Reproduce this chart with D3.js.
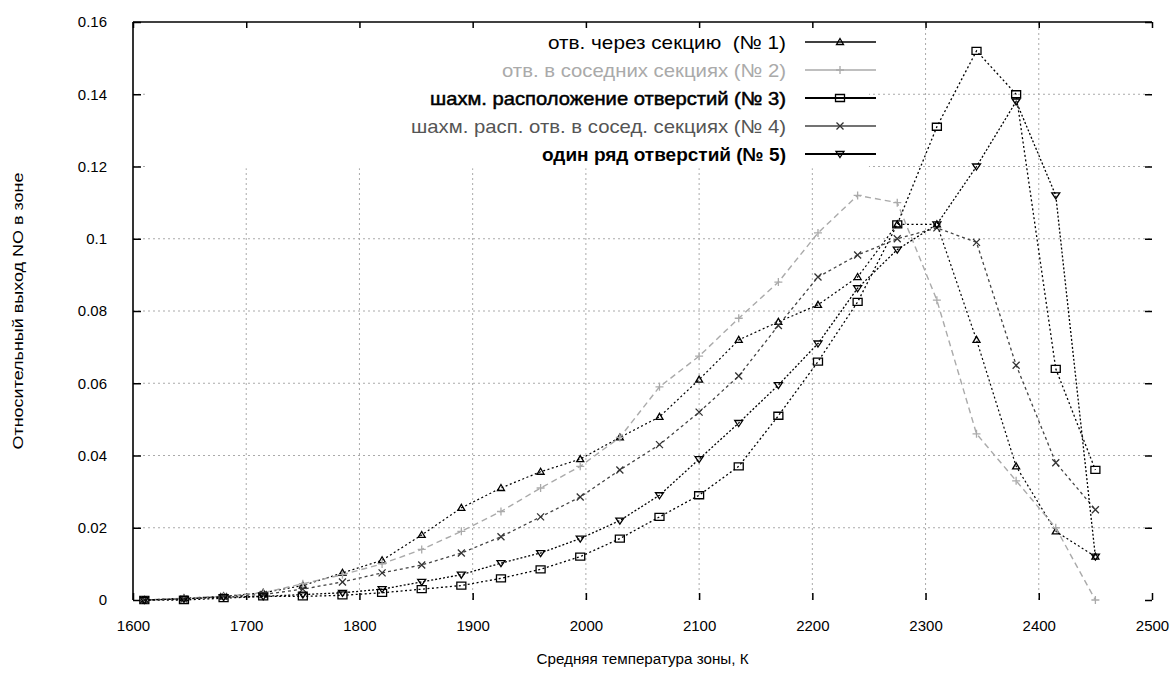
<!DOCTYPE html>
<html>
<head>
<meta charset="utf-8">
<script src="https://cdn.jsdelivr.net/npm/d3@7/dist/d3.min.js"></script>
<style>
  html, body { margin: 0; padding: 0; background: #fff; }
  svg { display: block; }
  text { font-family: "Liberation Sans", Arial, sans-serif; }
</style>
</head>
<body>
<div id="chart"></div>
<script>
// zone temperatures, K
const temps = [1610, 1645, 1680, 1715, 1750, 1785, 1820, 1855, 1890, 1925, 1960, 1995, 2030,
               2065, 2100, 2135, 2170, 2205, 2240, 2275, 2310, 2345, 2380, 2415, 2450];

// relative NO yield per zone
const s1 = [0, 0.0005, 0.001, 0.002, 0.004, 0.0075, 0.011, 0.018, 0.0255, 0.031, 0.0355, 0.039, 0.045,
            0.0507, 0.061, 0.072, 0.077, 0.0817, 0.0894, 0.104, 0.104, 0.072, 0.037, 0.019, 0.012];
const s2 = [0, 0.0005, 0.001, 0.002, 0.0045, 0.007, 0.010, 0.014, 0.019, 0.0245, 0.031, 0.037, 0.045,
            0.059, 0.0675, 0.078, 0.088, 0.1016, 0.112, 0.110, 0.083, 0.046, 0.033, 0.020, 0.000];
const s3 = [0, 0, 0.0005, 0.001, 0.001, 0.0013, 0.002, 0.003, 0.004, 0.006, 0.0085, 0.012, 0.017,
            0.023, 0.029, 0.037, 0.051, 0.066, 0.0825, 0.104, 0.131, 0.152, 0.140, 0.064, 0.036];
const s4 = [0, 0.0003, 0.001, 0.0015, 0.003, 0.005, 0.0075, 0.0097, 0.013, 0.0175, 0.023, 0.0285, 0.036,
            0.043, 0.052, 0.062, 0.076, 0.0894, 0.0955, 0.100, 0.103, 0.099, 0.065, 0.038, 0.025];
const s5 = [0, 0.0003, 0.0008, 0.001, 0.0015, 0.002, 0.003, 0.005, 0.007, 0.0102, 0.013, 0.017, 0.022,
            0.029, 0.039, 0.049, 0.0595, 0.071, 0.0863, 0.097, 0.104, 0.120, 0.138, 0.112, 0.012];

const seriesNames = [
  "отв. через секцию  (№ 1)",
  "отв. в соседних секциях (№ 2)",
  "шахм. расположение отверстий (№ 3)",
  "шахм. расп. отв. в сосед. секциях (№ 4)",
  "один ряд отверстий (№ 5)"
];
const xTicks = [1600, 1700, 1800, 1900, 2000, 2100, 2200, 2300, 2400, 2500];
const yTicks = [0, 0.02, 0.04, 0.06, 0.08, 0.1, 0.12, 0.14, 0.16];
const xTitle = "Средняя температура зоны, К";
const yTitle = "Относительный выход NO в зоне";

const width = 1174, height = 677;
const margin = {left: 133, right: 22, top: 22, bottom: 77};

const x = d3.scaleLinear().domain([1600, 2500]).range([margin.left, width - margin.right]);
const y = d3.scaleLinear().domain([0, 0.16]).range([height - margin.bottom, margin.top]);

const svg = d3.select("#chart").append("svg")
  .attr("width", width)
  .attr("height", height);

// styles per series: colour, dash in plot, marker, legend text look
const styles = [
  {color: "#000", width: 1.2, dash: "2,2.5", marker: "triUp", mcolor: "#000", font: "normal", tcolor: "#000", tw: 238},
  {color: "#aaa", width: 1.4, dash: "6,4", marker: "plus", mcolor: "#aaa", font: "normal", tcolor: "#aaa", tw: 284},
  {color: "#000", width: 1.3, dash: "2,2.5", marker: "square", mcolor: "#000", font: "semi", tcolor: "#000", tw: 356},
  {color: "#444", width: 1.3, dash: "3,3", marker: "cross", mcolor: "#333", font: "normal", tcolor: "#555", tw: 375},
  {color: "#000", width: 1.3, dash: "2,2", marker: "triDown", mcolor: "#000", font: "bold", tcolor: "#000", tw: 244}
];
const allSeries = [s1, s2, s3, s4, s5];

function markerPath(type) {
  switch (type) {
    case "square": return "M-4.5,-3.5H4.5V3.5H-4.5Z";
    case "triUp": return "M0,-3.5L3.5,2.5H-3.5Z";
    case "triDown": return "M0,3.5L4,-2.5H-4Z";
    case "cross": return "M-3.5,-3.5L3.5,3.5M-3.5,3.5L3.5,-3.5";
    case "plus": return "M-4,0H4M0,-4V4";
  }
}

// grid
const grid = svg.append("g").attr("stroke", "#aaa").attr("stroke-width", 1).attr("stroke-dasharray", "2,3");
grid.selectAll("line.gx").data(xTicks.slice(1, -1)).join("line")
  .attr("x1", d => x(d)).attr("x2", d => x(d))
  .attr("y1", y(0)).attr("y2", y(0.16));
grid.selectAll("line.gy").data(yTicks.slice(1, -1)).join("line")
  .attr("x1", x(1600)).attr("x2", x(2500))
  .attr("y1", d => y(d)).attr("y2", d => y(d));

// opaque legend box (hides the grid behind it)
svg.append("rect")
  .attr("x", x(1613)).attr("y", y(0.16) + 1)
  .attr("width", x(2250) - x(1613)).attr("height", y(0.1195) - y(0.16) - 1)
  .attr("fill", "#fff");

// border: only top and left survive in the picture
svg.append("line").attr("x1", x(1600)).attr("x2", x(2500)).attr("y1", y(0.16)).attr("y2", y(0.16))
  .attr("stroke", "#000").attr("stroke-width", 1.6);
svg.append("line").attr("x1", x(1600)).attr("x2", x(1600)).attr("y1", y(0.16)).attr("y2", y(0))
  .attr("stroke", "#000").attr("stroke-width", 1.6);

// axes, ticks drawn inward
const tickFont = 15;
const xAxisB = d3.axisBottom(x).tickValues(xTicks).tickSize(-7).tickPadding(20).tickFormat(d3.format("d"));
const xAxisT = d3.axisTop(x).tickValues(xTicks).tickSize(-6).tickFormat("");
const yAxisL = d3.axisLeft(y).tickValues(yTicks).tickSize(-8).tickPadding(26).tickFormat(d => d === 0 ? "0" : String(+d.toFixed(2)));
const yAxisR = d3.axisRight(y).tickValues(yTicks).tickSize(-7).tickFormat("");

function styleAxis(g) {
  g.select(".domain").remove();
  g.selectAll(".tick line").attr("stroke", "#000").attr("stroke-width", 1.5);
  g.selectAll(".tick text").attr("fill", "#000").attr("font-size", tickFont)
    .attr("font-family", "Liberation Sans, Arial, sans-serif");
}
svg.append("g").attr("transform", `translate(0,${y(0)})`).call(xAxisB).call(styleAxis);
svg.append("g").attr("transform", `translate(0,${y(0.16)})`).call(xAxisT).call(styleAxis);
svg.append("g").attr("transform", `translate(${x(1600)},0)`).call(yAxisL).call(styleAxis);
svg.append("g").attr("transform", `translate(${x(2500)},0)`).call(yAxisR).call(styleAxis);

// series lines and markers
const line = d3.line().x((d, i) => x(temps[i])).y(d => y(d));
allSeries.forEach((vals, k) => {
  const st = styles[k];
  svg.append("path")
    .datum(vals)
    .attr("d", line)
    .attr("fill", "none")
    .attr("stroke", st.color)
    .attr("stroke-width", st.width)
    .attr("stroke-dasharray", st.dash);
  svg.append("g").selectAll("path")
    .data(vals)
    .join("path")
    .attr("transform", (d, i) => `translate(${x(temps[i])},${y(d)})`)
    .attr("d", markerPath(st.marker))
    .attr("fill", "none")
    .attr("stroke", st.mcolor)
    .attr("stroke-width", 1.3);
});

// legend
const legend = svg.append("g");
const legendY = i => 42 + i * 28;
seriesNames.forEach((name, i) => {
  const st = styles[i];
  const t = legend.append("text")
    .attr("x", 786).attr("y", legendY(i) + 7)
    .attr("text-anchor", "end")
    .attr("font-size", 19)
    .attr("fill", st.tcolor)
    .attr("textLength", st.tw)
    .attr("lengthAdjust", "spacingAndGlyphs")
    .style("white-space", "pre")
    .text(name);
  if (st.font === "bold") t.attr("font-weight", "bold");
  if (st.font === "semi") t.attr("stroke", "#000").attr("stroke-width", 0.5);
  legend.append("line")
    .attr("x1", 805).attr("x2", 876)
    .attr("y1", legendY(i)).attr("y2", legendY(i))
    .attr("stroke", st.color)
    .attr("stroke-width", i === 2 || i === 4 ? 2 : 1.5);
  legend.append("path")
    .attr("transform", `translate(840,${legendY(i)})`)
    .attr("d", markerPath(st.marker))
    .attr("fill", "none")
    .attr("stroke", st.mcolor)
    .attr("stroke-width", 1.3);
});

// axis titles
svg.append("text")
  .attr("x", (x(1600) + x(2500)) / 2)
  .attr("y", 664)
  .attr("text-anchor", "middle")
  .attr("font-size", 14)
  .attr("fill", "#000")
  .attr("textLength", 212)
  .attr("lengthAdjust", "spacingAndGlyphs")
  .text(xTitle);
svg.append("text")
  .attr("transform", `translate(23,${(y(0) + y(0.16)) / 2}) rotate(-90)`)
  .attr("text-anchor", "middle")
  .attr("font-size", 14)
  .attr("fill", "#000")
  .attr("textLength", 277)
  .attr("lengthAdjust", "spacingAndGlyphs")
  .text(yTitle);
</script>
</body>
</html>
